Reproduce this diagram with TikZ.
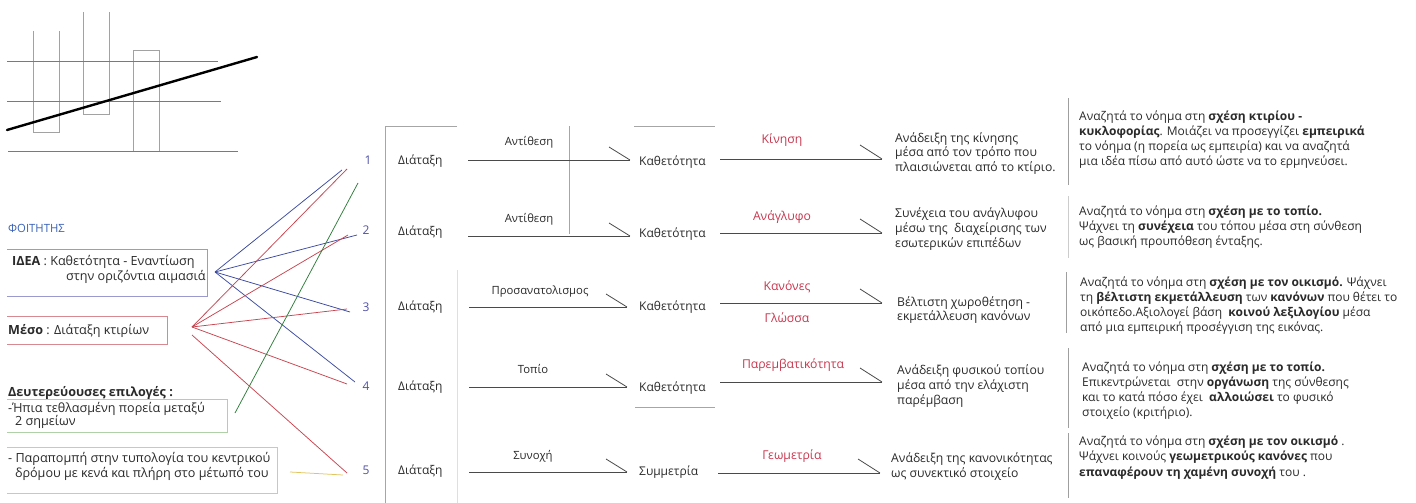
\documentclass[tikz,border=0pt]{standalone}
\usepackage{fontspec}
\setmainfont{Open Sans}
\begin{document}
\definecolor{ink}{HTML}{2A2A2A}
\definecolor{sketch}{HTML}{7A7A7A}
\definecolor{lab}{HTML}{C8384F}
\definecolor{bl}{HTML}{3B4AA0}
\definecolor{rd}{HTML}{C84550}
\definecolor{gr}{HTML}{2F7D3A}
\definecolor{ye}{HTML}{E2C460}
\definecolor{num}{HTML}{5050A8}
\definecolor{stud}{HTML}{3A62B8}
\definecolor{boxA}{HTML}{9A9AD0}
\definecolor{boxB}{HTML}{D88890}
\definecolor{boxC}{HTML}{B0D0A8}
\definecolor{boxD}{HTML}{D8CE78}
\begin{tikzpicture}[x=1pt,y=-1pt,
  txt/.style={inner sep=0pt,anchor=west,align=left,text=ink,font=\fontsize{12}{15.2}\selectfont},
  outc/.style={txt,font=\fontsize{12.2}{14.6}\selectfont},
  side/.style={txt,font=\fontsize{12.6}{15}\selectfont},
  mid/.style={inner sep=0pt,anchor=west,text=ink,font=\fontsize{12}{14}\selectfont},
  tag/.style={inner sep=0pt,text=ink,font=\fontsize{11.3}{14}\selectfont},
  redtag/.style={inner sep=0pt,text=lab,font=\fontsize{12.2}{14}\selectfont},
  numlab/.style={inner sep=0pt,text=num,font=\fontsize{12}{14}\selectfont},
  link/.style={line width=0.75pt},
  flow/.style={draw=ink!85,line width=0.8pt},
  bar/.style={draw=gray!75,line width=1pt},
  frame/.style={draw=gray!70,line width=0.8pt}]
\useasboundingbox (0,0) rectangle (1416,503);
\fill[white] (0,0) rectangle (1416,503);

% ---- sketch of the idea (top left)
\begin{scope}[draw=sketch!70,line width=0.6pt]
  \draw (33,31) -- (33,132) -- (59,132) -- (59,31);
  \draw (83,12) -- (83,114) -- (109,114) -- (109,12);
  \draw (133,50) rectangle (159,151);
\end{scope}
\begin{scope}[draw=sketch,line width=0.7pt]
  \draw (7,61) -- (218,61);
  \draw (7,101) -- (221,101);
  \draw (8,151) -- (238,151);
\end{scope}
\draw[line width=2.4pt,line cap=round] (7,130) -- (257,57);

% ---- student column
\node[inner sep=0pt,anchor=west,text=stud,font=\fontsize{11.3}{13}\selectfont] (stu) at (8,228) {ΦΟΙΤΗΤΗΣ};
\draw[boxA,line width=0.7pt] (7,249) -- (207,249) -- (207,296) -- (7,296);
\node[side] (idea) at (12,262) {\textbf{ΙΔΕΑ} : Καθετότητα - Εναντίωση};
\node[side] (idea2) at (66,277) {στην οριζόντια αιμασιά};
\draw[boxB,line width=0.7pt] (7,316) -- (167,316) -- (167,344) -- (7,344);
\node[side] (meso) at (8,331) {\textbf{Μέσο} : Διάταξη κτιρίων};
\node[side] (sec) at (8,393) {\textbf{Δευτερεύουσες επιλογές :}};
\draw[boxC,line width=0.7pt] (7,399) -- (227,399) -- (227,432) -- (7,432);
\node[side] (sec1) at (8,409) {-Ήπια τεθλασμένη πορεία μεταξύ};
\node[side] (sec2) at (15,422) {2 σημείων};
\draw[boxD,line width=0.7pt] (7,447) -- (277,447) -- (277,493) -- (7,493);
\node[side] (ref1) at (8,459) {- Παραπομπή στην τυπολογία του κεντρικού};
\node[side] (ref2) at (15,474) {δρόμου με κενά και πλήρη στο μέτωπό του};

% ---- numbers
\node[numlab] (n1) at (368,160) {1};
\node[numlab] (n2) at (366,230) {2};
\node[numlab] (n3) at (366,307) {3};
\node[numlab] (n4) at (366,386) {4};
\node[numlab] (n5) at (366,470) {5};

% ---- link anchors
\coordinate (pI) at (215,272);
\coordinate (pM) at (192,327);
\coordinate (pM5) at (192,335);
\coordinate (pG) at (235,413);
\coordinate (pY) at (290,472);
\coordinate (b1) at (342,170);
\coordinate (b2) at (357,235);
\coordinate (b3) at (350,312);
\coordinate (b4) at (355,382);
\coordinate (r1) at (347,169);
\coordinate (r2) at (348,235);
\coordinate (r3) at (347,309);
\coordinate (r4) at (347,384);
\coordinate (r5) at (347,473);
\coordinate (g1) at (358,183);
\coordinate (y5) at (343,475);

\foreach \e in {b1,b2,b3,b4} \draw[link,bl] (pI) -- (\e);
\foreach \e in {r1,r2,r3,r4} \draw[link,rd] (pM) -- (\e);
\draw[link,rd] (pM5) -- (r5);
\draw[link,gr] (pG) -- (g1);
\draw[link,ye] (pY) -- (y5);

% ---- bracket
\draw[frame] (457,126) -- (385,126) -- (385,503);
\draw[draw=gray!25,line width=0.8pt] (457,270) -- (457,503);
\draw[frame] (634,126) -- (715,126);
\draw[frame] (635,407) -- (715,407);
\draw[frame] (569,126) -- (569,234);

% ---- rows
\foreach \i/\y in {1/161,2/232,3/307,4/387,5/471}
  \node[mid] (d\i) at (398,\y) {Διάταξη};
\node[mid] (k1) at (639,162) {Καθετότητα};
\node[mid] (k2) at (639,234) {Καθετότητα};
\node[mid] (k3) at (639,307) {Καθετότητα};
\node[mid] (k4) at (639,388) {Καθετότητα};
\node[mid] (k5) at (639,472) {Συμμετρία};

\node[tag] (t1) at (529,142) {Αντίθεση};
\node[tag] (t2) at (529,219) {Αντίθεση};
\node[tag] (t3) at (540,292) {Προσανατολισμος};
\node[tag] (t4) at (533,369) {Τοπίο};
\node[tag] (t5) at (533,456) {Συνοχή};

% first stage connectors
\foreach \i/\y/\xa/\xb in {1/160/468/630,2/236/468/630,3/307/469/627,4/387/469/627,5/472/469/627}{
  \coordinate (s\i a) at (\xa,\y);
  \coordinate (s\i b) at (\xb,\y);
  \draw[flow] (s\i a) -- (s\i b);
  \draw[flow] (s\i b) -- +(-21,-13);
}
% second stage connectors
\foreach \i/\y/\xa/\xb in {1/159/720/882,2/233/720/882,3/303/720/882,4/382/720/882,5/473/718/880}{
  \coordinate (u\i a) at (\xa,\y);
  \coordinate (u\i b) at (\xb,\y);
  \draw[flow] (u\i a) -- (u\i b);
  \draw[flow] (u\i b) -- +(-22,-14);
}

\node[redtag] (c1) at (782,140) {Κίνηση};
\node[redtag] (c2) at (782,217) {Ανάγλυφο};
\node[redtag] (c3) at (787,287) {Κανόνες};
\node[redtag] (c3b) at (787,318) {Γλώσσα};
\node[redtag] (c4) at (793,365) {Παρεμβατικότητα};
\node[redtag] (c5) at (792,456) {Γεωμετρία};

% ---- outcomes
\node[outc] (o1) at (895,153.5) {Ανάδειξη της κίνησης\\μέσα από τον τρόπο που\\πλαισιώνεται από το κτίριο.};
\node[outc] (o2) at (895,229) {Συνέχεια του ανάγλυφου\\μέσω της \ διαχείρισης των\\εσωτερικών επιπέδων};
\node[outc] (o3) at (897,310) {Βέλτιστη χωροθέτηση -\\εκμετάλλευση κανόνων};
\node[outc] (o4) at (897,386) {Ανάδειξη φυσικού τοπίου\\μέσα από την ελάχιστη\\παρέμβαση};
\node[outc] (o5) at (891,466.5) {Ανάδειξη της κανονικότητας\\ως συνεκτικό στοιχείο};

% ---- assessments
\draw[bar] (1068,98) -- (1068,185);
\draw[bar,draw=gray!40] (1068,196) -- (1068,258);
\draw[bar] (1066,272) -- (1066,333);
\draw[bar] (1068,348) -- (1068,428);
\draw[bar] (1068,433) -- (1068,498);

\node[txt] (e1) at (1079,139.5) {Αναζητά το νόημα στη \textbf{σχέση κτιρίου -}\\\textbf{κυκλοφορίας}. Μοιάζει να προσεγγίζει \textbf{εμπειρικά}\\το νόημα (η πορεία ως εμπειρία) και να αναζητά\\μια ιδέα πίσω από αυτό ώστε να το ερμηνεύσει.};
\node[txt] (e2) at (1079,227) {Αναζητά το νόημα στη \textbf{σχέση με το τοπίο.}\\Ψάχνει τη \textbf{συνέχεια} του τόπου μέσα στη σύνθεση\\ως βασική προυπόθεση ένταξης.};
\node[txt] (e3) at (1080,305.5) {Αναζητά το νόημα στη \textbf{σχέση με τον οικισμό.} Ψάχνει\\τη \textbf{βέλτιστη εκμετάλλευση} των \textbf{κανόνων} που θέτει το\\οικόπεδο.Αξιολογεί βάση \ \textbf{κοινού λεξιλογίου} μέσα\\από μια εμπειρική προσέγγιση της εικόνας.};
\node[txt] (e4) at (1082,390.5) {Αναζητά το νόημα στη \textbf{σχέση με το τοπίο.}\\Επικεντρώνεται \ στην \textbf{οργάνωση} της σύνθεσης\\και το κατά πόσο έχει \ \textbf{αλλοιώσει} το φυσικό\\στοιχείο (κριτήριο).};
\node[txt] (e5) at (1079,457.5) {Αναζητά το νόημα στη \textbf{σχέση με τον οικισμό} .\\Ψάχνει κοινούς \textbf{γεωμετρικούς κανόνες} που\\\textbf{επαναφέρουν τη χαμένη συνοχή} του .};
\end{tikzpicture}
\end{document}
